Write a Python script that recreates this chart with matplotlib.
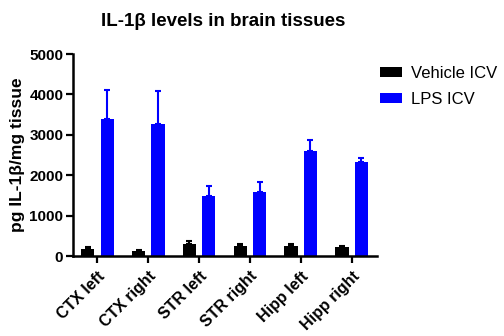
import numpy as np
import matplotlib.pyplot as plt

plt.rcParams['font.family'] = ['Liberation Sans', 'DejaVu Sans']

regions = ["CTX left", "CTX right", "STR left", "STR right", "Hipp left", "Hipp right"]
vehicle_mean = [173, 132, 297, 256, 247, 231]
vehicle_sem = [42, 13, 66, 49, 58, 25]
lps_mean = [3384, 3267, 1478, 1584, 2599, 2318]
lps_sem = [733, 825, 255, 256, 281, 115]

fig = plt.figure(figsize=(5.04, 3.36), dpi=100)
ax = fig.add_axes([0.145, 0.238, 0.603, 0.601])

x = np.arange(len(regions))
w = 0.26
off = 0.19

ax.bar(x - off, vehicle_mean, w, color='black', label='Vehicle ICV', zorder=2)
ax.errorbar(x - off, vehicle_mean, yerr=[np.zeros(len(x)), vehicle_sem], fmt='none',
            ecolor='black', elinewidth=1.5, capsize=2.5, capthick=1.5, zorder=1)
ax.bar(x + off, lps_mean, w, color='#0000ff', label='LPS ICV', zorder=2)
ax.errorbar(x + off, lps_mean, yerr=[np.zeros(len(x)), lps_sem], fmt='none',
            ecolor='#0000ff', elinewidth=1.5, capsize=2.5, capthick=1.5, zorder=1)

ax.set_xlim(-0.48, 5.5)
ax.set_ylim(0, 5000)
ax.set_yticks([0, 1000, 2000, 3000, 4000, 5000])
ax.set_xticks(x)
ax.set_xticklabels(regions, rotation=45, ha='right', rotation_mode='anchor',
                   fontweight='bold', fontsize=11.5)
for lbl in ax.get_yticklabels():
    lbl.set_fontweight('bold')
    lbl.set_fontsize(11)

for s in ['top', 'right']:
    ax.spines[s].set_visible(False)
for s in ['left', 'bottom']:
    ax.spines[s].set_linewidth(1.8)
ax.tick_params(axis='both', width=1.6, length=5, direction='out', pad=2)
ax.tick_params(axis='x', pad=4)

ax.set_ylabel('pg IL-1β/mg tissue', fontsize=12.5, fontweight='bold', labelpad=3)
fig.text(0.443, 0.9375, 'IL-1β levels in brain tissues', fontsize=13.5, fontweight='bold',
         ha='center', va='center')

ax.legend(loc='upper left', bbox_to_anchor=(0.962, 1.015), frameon=False, fontsize=12,
          handlelength=1.3, handleheight=0.5, handletextpad=0.55, labelspacing=0.65)

fig.savefig('out.png', dpi=100)
